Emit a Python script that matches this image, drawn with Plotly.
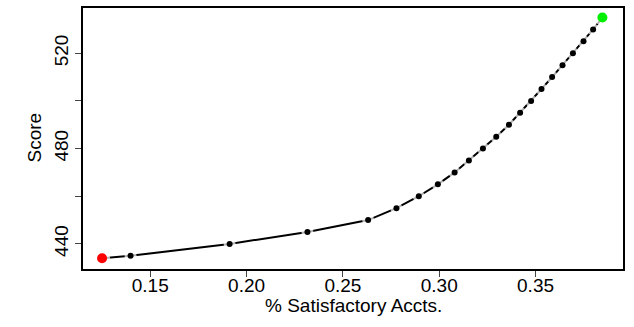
import plotly.graph_objects as go

# Data
pct_satisfactory = [0.1250, 0.1398, 0.1912, 0.2316, 0.2631, 0.2778, 0.2894, 0.2993,
                    0.3080, 0.3154, 0.3227, 0.3296, 0.3362, 0.3420, 0.3477, 0.3531,
                    0.3586, 0.3640, 0.3694, 0.3749, 0.3799, 0.3847]
score = [434, 435, 440, 445, 450, 455, 460, 465, 470, 475, 480, 485, 490, 495,
         500, 505, 510, 515, 520, 525, 530, 535]
y_tickvals = [440, 460, 480, 500, 520]
y_ticktext = ["440", "", "480", "", "520"]
x_tickvals = [0.15, 0.20, 0.25, 0.30, 0.35]
x_ticktext = ["0.15", "0.20", "0.25", "0.30", "0.35"]

FONT = "Liberation Sans, Arial, sans-serif"
n = len(score)

fig = go.Figure()
# connecting line
fig.add_trace(go.Scatter(x=pct_satisfactory, y=score, mode="lines",
                         line=dict(color="black", width=2), hoverinfo="skip"))
# white halos to create gaps around points (like R type="b")
fig.add_trace(go.Scatter(x=pct_satisfactory, y=score, mode="markers",
                         marker=dict(color="white",
                                     size=[16] + [12] * (n - 2) + [16],
                                     line=dict(width=0)),
                         hoverinfo="skip"))
# black interior points
fig.add_trace(go.Scatter(x=pct_satisfactory[1:-1], y=score[1:-1], mode="markers",
                         marker=dict(color="black", size=6, line=dict(width=0))))
# min point (red)
fig.add_trace(go.Scatter(x=[pct_satisfactory[0]], y=[score[0]], mode="markers",
                         marker=dict(color="#ff0000", size=10, line=dict(width=0))))
# max point (green)
fig.add_trace(go.Scatter(x=[pct_satisfactory[-1]], y=[score[-1]], mode="markers",
                         marker=dict(color="#00ee00", size=10, line=dict(width=0))))

fig.update_layout(
    width=634, height=327,
    margin=dict(l=83, r=11, t=6, b=58),
    paper_bgcolor="white", plot_bgcolor="white",
    showlegend=False,
    font=dict(family=FONT, size=19, color="black"),
    xaxis=dict(range=[0.1151, 0.3954], tickvals=x_tickvals, ticktext=x_ticktext,
               showgrid=False, zeroline=False, showline=True, mirror=True,
               linecolor="black", linewidth=1.5, ticks="outside", ticklen=6,
               tickwidth=1, tickcolor="#444", ticklabelstandoff=-8,
               tickfont=dict(size=19, color="black")),
    yaxis=dict(range=[429.46, 539.0], tickvals=y_tickvals, ticktext=y_ticktext,
               showgrid=False, zeroline=False, showline=True, mirror=True,
               linecolor="black", linewidth=1.5, ticks="outside", ticklen=6,
               tickwidth=1, tickcolor="#444", tickangle=-90,
               tickfont=dict(size=19, color="black")),
    annotations=[
        dict(text="% Satisfactory Accts.", xref="paper", yref="paper",
             x=0.5, y=-0.138, xanchor="center", yanchor="middle", showarrow=False,
             font=dict(size=19, family=FONT, color="black")),
        dict(text="Score", xref="paper", yref="paper", textangle=-90,
             x=-0.0898, y=0.502, xanchor="center", yanchor="middle", showarrow=False,
             font=dict(size=19, family=FONT, color="black")),
    ],
)

fig.write_html("out.html")
